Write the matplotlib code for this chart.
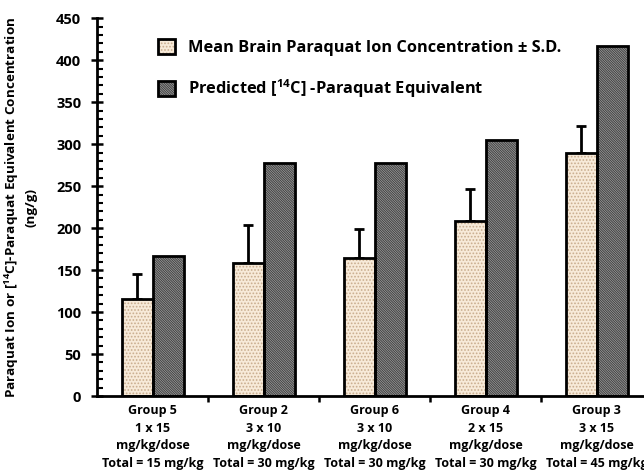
import matplotlib
matplotlib.use("Agg")
import matplotlib.pyplot as plt
import numpy as np
from matplotlib.patches import Patch
from matplotlib.legend_handler import HandlerTuple
from matplotlib.ticker import MultipleLocator, FixedLocator

# Data
groups = ["Group 5\n1 x 15\nmg/kg/dose\nTotal = 15 mg/kg",
          "Group 2\n3 x 10\nmg/kg/dose\nTotal = 30 mg/kg",
          "Group 6\n3 x 10\nmg/kg/dose\nTotal = 30 mg/kg",
          "Group 4\n2 x 15\nmg/kg/dose\nTotal = 30 mg/kg",
          "Group 3\n3 x 15\nmg/kg/dose\nTotal = 45 mg/kg"]
mean_conc = [115, 159, 165, 208, 290]
mean_sd = [30, 45, 34, 39, 32]
predicted = [167, 278, 278, 305, 417]

plt.rcParams['font.family'] = ['Open Sans', 'DejaVu Sans']
plt.rcParams['font.weight'] = 'bold'
plt.rcParams['mathtext.fontset'] = 'custom'
plt.rcParams['mathtext.bf'] = 'Open Sans:bold'
plt.rcParams['mathtext.rm'] = 'Open Sans:bold'
plt.rcParams['hatch.linewidth'] = 0.8

W, H = 644, 476
fig = plt.figure(figsize=(W / 100, H / 100), dpi=100)
x0, y0 = 97.3, 396.0
ax = fig.add_axes([x0 / W, (H - y0) / H, 555 / W, (y0 - 18.3) / H])

x = np.arange(len(groups))
bw = 0.28
mean_fc, mean_hc = '#f7ead9', '#c9ad8e'
pred_fc, pred_hc = '#b0b0b0', '#454545'
mean_hatch = '.....'
pred_hatch = '\\' * 14

# fill + hatch layer, then black outline layer
ax.bar(x - bw / 2, mean_conc, bw, color=mean_fc, edgecolor=mean_hc,
       hatch=mean_hatch, linewidth=0, zorder=2)
ax.bar(x - bw / 2, mean_conc, bw, fill=False, edgecolor='black',
       linewidth=2, zorder=3)
ax.bar(x + bw / 2, predicted, bw, color=pred_fc, edgecolor=pred_hc,
       hatch=pred_hatch, linewidth=0, zorder=2)
ax.bar(x + bw / 2, predicted, bw, fill=False, edgecolor='black',
       linewidth=2, zorder=3)

# upper-only S.D. bars
ax.errorbar(x - bw / 2, mean_conc, yerr=[np.zeros(len(mean_sd)), mean_sd],
            fmt='none', ecolor='black', elinewidth=2, capsize=3.5,
            capthick=2, zorder=1)

ax.set_xlim(-0.5, len(groups) - 0.5)
ax.set_ylim(0, 450)
for s in ['top', 'right']:
    ax.spines[s].set_visible(False)
for s in ['left', 'bottom']:
    ax.spines[s].set_linewidth(2)

ax.yaxis.set_major_locator(MultipleLocator(50))
ax.yaxis.set_minor_locator(MultipleLocator(10))
ax.tick_params(axis='y', which='major', direction='inout', length=9,
               width=1.8, labelsize=10.5, pad=7)
ax.tick_params(axis='y', which='minor', direction='in', length=4, width=1.5)

ax.xaxis.set_major_locator(FixedLocator(np.arange(0.5, len(groups) - 0.5)))
ax.xaxis.set_minor_locator(FixedLocator(x))
ax.set_xticklabels([], minor=False)
ax.set_xticklabels(groups, minor=True)
ax.tick_params(axis='x', which='major', direction='out', length=4, width=1.8)
ax.tick_params(axis='x', which='minor', length=0, labelsize=9, pad=6)
for lbl in ax.get_xticklabels(minor=True):
    lbl.set_linespacing(1.45)
    lbl.set_fontweight('bold')
for lbl in ax.get_yticklabels():
    lbl.set_fontweight('bold')

ax.set_ylabel('Paraquat Ion or [$^{\\mathbf{14}}$C]-Paraquat Equivalent Concentration\n(ng/g)',
              fontsize=9.7, fontweight='bold', linespacing=1.3)
ax.yaxis.set_label_coords(-60 / 555, 0.5)

h_mean = (Patch(facecolor=mean_fc, edgecolor=mean_hc, hatch=mean_hatch, linewidth=0),
          Patch(fill=False, edgecolor='black', linewidth=2))
h_pred = (Patch(facecolor=pred_fc, edgecolor=pred_hc, hatch=pred_hatch, linewidth=0),
          Patch(fill=False, edgecolor='black', linewidth=2))
leg = ax.legend([h_mean, h_pred],
                ['Mean Brain Paraquat Ion Concentration \u00b1 S.D.',
                 'Predicted [$^{\\mathbf{14}}$C] -Paraquat Equivalent'],
                handler_map={tuple: HandlerTuple(ndivide=1, pad=0)},
                loc='upper left', bbox_to_anchor=(158 / W, 1 - 39 / H),
                bbox_transform=fig.transFigure, frameon=False,
                prop={'size': 11.8, 'weight': 'bold'},
                handlelength=1.05, handleheight=1.05, handletextpad=0.75,
                labelspacing=1.3, borderaxespad=0, borderpad=0)

fig.savefig('out.png', dpi=100)
